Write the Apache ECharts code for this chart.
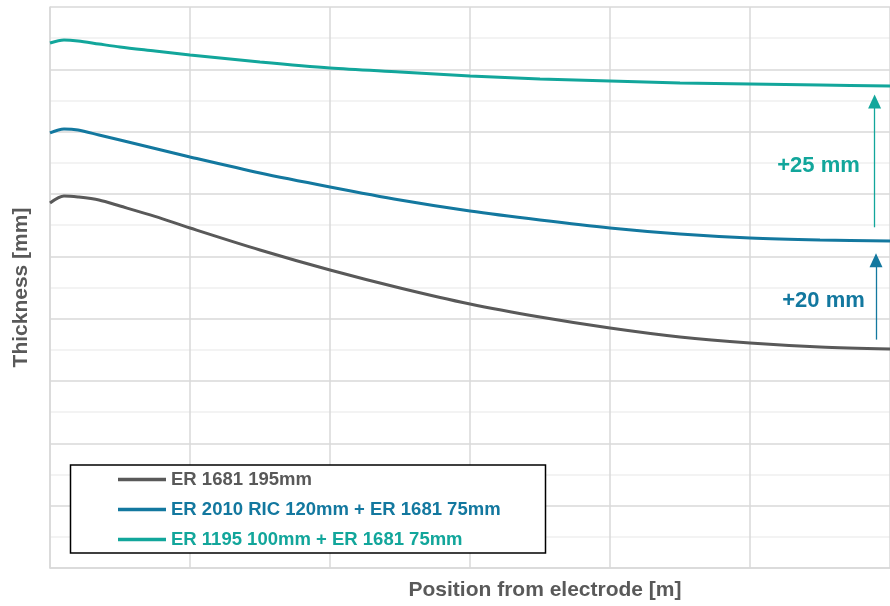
<!DOCTYPE html>
<html>
<head>
<meta charset="utf-8">
<script src="https://cdn.jsdelivr.net/npm/echarts@6/dist/echarts.min.js"></script>
<style>
html,body{margin:0;padding:0;background:#fff;}
#chart{width:890px;height:606px;}
</style>
</head>
<body>
<div id="chart"></div>
<script>
// Position from electrode (relative units)
var positions = [0, 0.1, 0.2, 0.35, 0.5, 0.75, 1, 1.5, 2, 2.5, 3, 3.5, 4, 4.5, 5, 5.5, 6];
// Thickness (relative units)
var er1681 = [58.56, 59.68, 59.52, 59.04, 58.07, 56.40, 54.55, 51.02, 47.81, 44.92, 42.35, 40.27, 38.50, 37.06, 36.10, 35.46, 35.14];
var er2010 = [69.79, 70.43, 70.27, 69.47, 68.66, 67.30, 65.94, 63.37, 61.13, 59.04, 57.27, 55.83, 54.55, 53.58, 52.94, 52.62, 52.46];
var er1195 = [84.22, 84.71, 84.55, 84.06, 83.58, 82.94, 82.30, 81.18, 80.21, 79.57, 78.93, 78.45, 78.13, 77.81, 77.65, 77.49, 77.33];
var seriesNames = ['ER 1681 195mm', 'ER 2010 RIC 120mm + ER 1681 75mm', 'ER 1195 100mm + ER 1681 75mm'];
var annotationTexts = ['+20 mm', '+25 mm'];

var colGray = '#595959', colBlue = '#13789f', colTeal = '#12a69b';
var fontFam = '"Liberation Sans", Arial, Helvetica, sans-serif';

function pairs(ys) { return positions.map(function (x, i) { return [x, ys[i]]; }); }
var last = positions.length - 1;
var arrowX1 = 5.9, arrowX2 = 5.89;

var chart = echarts.init(document.getElementById('chart'), null, {renderer: 'canvas'});
var option = {
  animation: false,
  backgroundColor: '#ffffff',
  grid: {left: 50, top: 7, width: 843, height: 561, containLabel: false},
  xAxis: {
    type: 'value', min: 0, max: 6, interval: 1,
    name: 'Position from electrode [m]', nameLocation: 'middle', nameGap: 12,
    nameTextStyle: {fontFamily: fontFam, fontWeight: 'bold', fontSize: 21, color: colGray, padding: [0, 0, 0, 150], verticalAlign: 'top'},
    axisLine: {show: true, lineStyle: {color: '#d9d9d9', width: 1.5}},
    axisTick: {show: false}, axisLabel: {show: false},
    splitLine: {show: true, lineStyle: {color: '#d9d9d9', width: 1.5}}
  },
  yAxis: {
    type: 'value', min: 0, max: 90, interval: 10,
    name: 'Thickness [mm]', nameLocation: 'middle', nameGap: 18,
    nameTextStyle: {fontFamily: fontFam, fontWeight: 'bold', fontSize: 21, color: colGray},
    axisLine: {show: true, lineStyle: {color: '#d9d9d9', width: 1.5}},
    axisTick: {show: false}, axisLabel: {show: false},
    minorTick: {show: false, splitNumber: 2},
    splitLine: {show: true, lineStyle: {color: '#d9d9d9', width: 1.5}},
    minorSplitLine: {show: true, lineStyle: {color: '#f0f0f0', width: 1.5}}
  },
  legend: {
    orient: 'vertical', left: 70, top: 465,
    padding: [5, 10, 6, 48],
    itemWidth: 48, itemHeight: 3.5, itemGap: 11,
    icon: 'rect',
    textStyle: {fontFamily: fontFam, fontWeight: 'bold', fontSize: 18.5, lineHeight: 18},
    data: [
      {name: seriesNames[0], textStyle: {color: colGray}},
      {name: seriesNames[1], textStyle: {color: colBlue}},
      {name: seriesNames[2], textStyle: {color: colTeal}}
    ]
  },
  graphic: [
    {type: 'rect', z: 3, shape: {x: 70.5, y: 465, width: 475, height: 88},
     style: {fill: '#ffffff', stroke: '#000000', lineWidth: 1.5}},
    {type: 'text', z: 10, x: 818.5, y: 166,
     style: {text: annotationTexts[1], fill: colTeal, font: 'bold 22px ' + fontFam, textAlign: 'center', textVerticalAlign: 'middle'}},
    {type: 'text', z: 10, x: 823.5, y: 301,
     style: {text: annotationTexts[0], fill: colBlue, font: 'bold 22px ' + fontFam, textAlign: 'center', textVerticalAlign: 'middle'}}
  ],
  series: [
    {name: seriesNames[0], type: 'line', data: pairs(er1681), smooth: 0.3, symbol: 'none',
     lineStyle: {color: colGray, width: 3}, itemStyle: {color: colGray}},
    {name: seriesNames[1], type: 'line', data: pairs(er2010), smooth: 0.3, symbol: 'none',
     lineStyle: {color: colBlue, width: 3}, itemStyle: {color: colBlue},
     markLine: {silent: true, symbol: ['none', 'triangle'], symbolSize: [13, 14],
       label: {show: false}, lineStyle: {color: colBlue, width: 1.3, type: 'solid'},
       data: [[{coord: [arrowX1, er1681[last] + 1.5]}, {coord: [arrowX1, er2010[last] - 3.1]}]]}},
    {name: seriesNames[2], type: 'line', data: pairs(er1195), smooth: 0.3, symbol: 'none',
     lineStyle: {color: colTeal, width: 3}, itemStyle: {color: colTeal},
     markLine: {silent: true, symbol: ['none', 'triangle'], symbolSize: [13, 14],
       label: {show: false}, lineStyle: {color: colTeal, width: 1.3, type: 'solid'},
       data: [[{coord: [arrowX2, er2010[last] + 2.2]}, {coord: [arrowX2, er1195[last] - 2.5]}]]}}
  ]
};
chart.setOption(option);
</script>
</body>
</html>
